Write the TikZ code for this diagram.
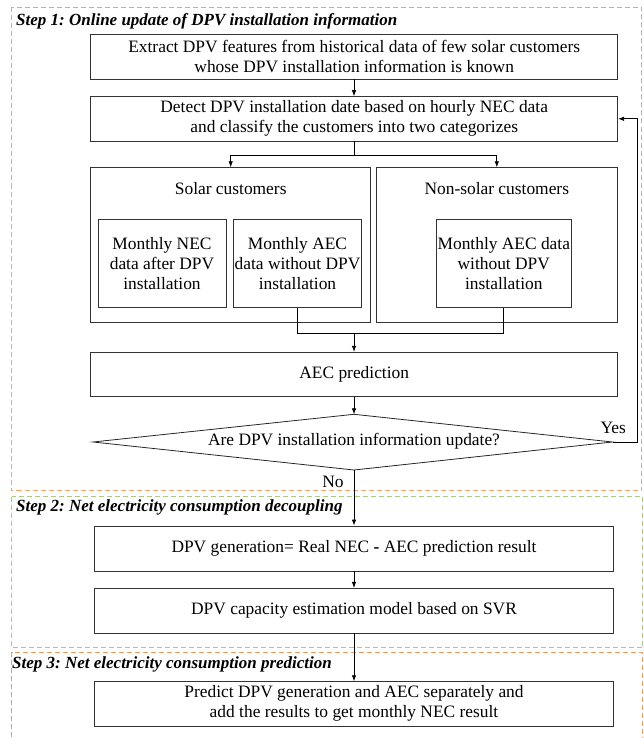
\documentclass[tikz,border=0pt]{standalone}
\usepackage{fontspec}
\setmainfont{Liberation Serif}
\usetikzlibrary{arrows.meta}
\definecolor{stepOneColor}{HTML}{F3A466}
\definecolor{stepTwoColor}{HTML}{A8CD80}
\definecolor{stepThreeColor}{HTML}{F59A55}
\tikzset{
  box/.style={draw=black!80, line width=0.8pt, align=center, inner sep=0pt,
    font=\fontsize{17.4}{20}\selectfont},
  lbl/.style={inner sep=0pt, font=\fontsize{17.4}{20}\selectfont},
  ttl/.style={inner sep=0pt, anchor=west, font=\fontsize{17}{20}\selectfont\bfseries\itshape},
  stepframe/.style={line width=1.2pt, dash pattern=on 5pt off 3pt},
  conn/.style={line width=0.8pt},
  arr/.style={conn, -{Latex[length=6pt,width=4.5pt]}}
}
\frenchspacing
\begin{document}
\begin{tikzpicture}[x=1pt,y=-1pt]
\useasboundingbox (0,0) rectangle (644,738);
% frames
\draw[stepframe, stepOneColor] (11.5,7.5) rectangle (641.5,490.5);
\draw[stepframe, stepTwoColor] (11.5,496.5) rectangle (642.5,647.5);
\draw[stepframe, stepThreeColor] (11.5,745) -- (11.5,652.5) -- (642.5,652.5) -- (642.5,745);
\node[ttl] (t1) at (16,21) {Step 1: Online update of DPV installation information};
\node[ttl] (t2) at (16,507) {Step 2: Net electricity consumption decoupling};
\node[ttl] (t3) at (12,664) {Step 3: Net electricity consumption prediction};
% boxes
\node[box, minimum width=527pt, minimum height=44.7pt] (b1) at (354.2,56.7)
  {Extract DPV features from historical data of few solar customers\\whose DPV installation information is known};
\node[box, minimum width=527pt, minimum height=44.3pt] (b2) at (354.2,118.8)
  {Detect DPV installation date based on hourly NEC data\\and classify the customers into two categorizes};
\node[box, minimum width=280pt, minimum height=154.8pt] (solar) at (230.7,245.1) {};
\node[box, minimum width=241.7pt, minimum height=154.8pt] (nonsolar) at (496.8,245.1) {};
\node[lbl] (solarT) at (230.7,189) {Solar customers};
\node[lbl] (nonsolarT) at (496.8,189) {Non-solar customers};
\node[box, minimum width=128pt, minimum height=88.3pt] (nec) at (162,263.2)
  {Monthly NEC\\data after DPV\\installation};
\node[box, minimum width=128.4pt, minimum height=88.3pt] (aecs) at (297.5,263.2)
  {Monthly AEC\\data without DPV\\installation};
\node[box, minimum width=135.7pt, minimum height=88.3pt] (aecn) at (503.8,263.2)
  {Monthly AEC data\\without DPV\\installation};
\node[box, minimum width=527pt, minimum height=44.4pt] (aecp) at (354.2,374.5) {AEC prediction};
\coordinate (dT) at (354,414.3);
\coordinate (dL) at (93,442);
\coordinate (dR) at (612.5,442);
\coordinate (dB) at (354,470);
\draw[conn, black!85] (dT) -- (dR) -- (dB) -- (dL) -- cycle;
\node[lbl] (q) at (354,441) {Are DPV installation information update?};
\node[lbl] (yes) at (613.3,428) {Yes};
\node[lbl] (no) at (333,481.7) {No};
\node[box, minimum width=518.6pt, minimum height=45pt] (gen) at (354,548.5)
  {DPV generation= Real NEC \textbf{-} AEC prediction result};
\node[box, minimum width=518.6pt, minimum height=44.7pt] (cap) at (354,610.7)
  {DPV capacity estimation model based on SVR};
\node[box, minimum width=518.6pt, minimum height=44.3pt] (pred) at (354,703.8)
  {Predict DPV generation and AEC separately and\\add the results to get monthly NEC result};
% connectors
\draw[arr] (b1.south -| dT) -- (b2.north -| dT);
\coordinate (split) at (354,155.7);
\draw[conn] (b2.south -| dT) -- (split);
\draw[arr] (split) -| (solar.north);
\draw[arr] (split) -| (nonsolar.north);
\coordinate (join) at (354,333.3);
\draw[conn] (aecs.south) |- (join);
\draw[conn] (aecn.south) |- (join);
\draw[arr] (join) -- (aecp.north -| dT);
\draw[arr] (aecp.south -| dT) -- (dT);
\coordinate (loopB) at (637.3,442);
\draw[arr] (dR) -- (loopB) |- (b2.east);
\draw[arr] (dB) -- (gen.north -| dB);
\draw[arr] (gen.south -| dB) -- (cap.north -| dB);
\draw[arr] (cap.south -| dB) -- (pred.north -| dB);
\end{tikzpicture}
\end{document}
